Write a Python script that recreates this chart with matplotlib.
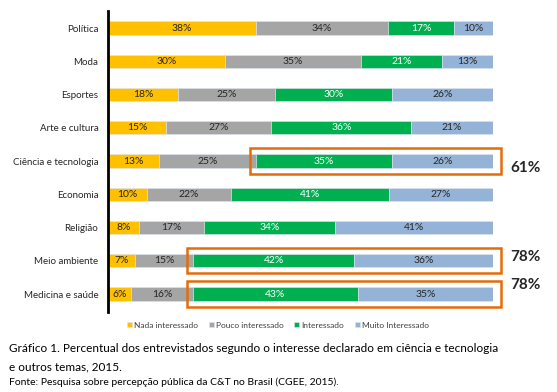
import matplotlib
matplotlib.use("Agg")
import matplotlib.pyplot as plt
from matplotlib.patches import Rectangle
import numpy as np

plt.rcParams['font.family'] = ['Lato', 'DejaVu Sans']

categories = ["Política", "Moda", "Esportes", "Arte e cultura", "Ciência e tecnologia",
              "Economia", "Religião", "Meio ambiente", "Medicina e saúde"]
nada = [38, 30, 18, 15, 13, 10, 8, 7, 6]
pouco = [34, 35, 25, 27, 25, 22, 17, 15, 16]
interessado = [17, 21, 30, 36, 35, 41, 34, 42, 43]
muito = [10, 13, 26, 21, 26, 27, 41, 36, 35]
series_names = ["Nada interessado", "Pouco interessado", "Interessado", "Muito Interessado"]
colors = ["#FFC000", "#A5A5A5", "#00B050", "#95B3D7"]
text_colors = ["#262626", "#262626", "white", "#262626"]
highlight = {"Ciência e tecnologia": "61%", "Meio ambiente": "78%", "Medicina e saúde": "78%"}
label_offsets = {"Ciência e tecnologia": 0.21, "Meio ambiente": -0.12, "Medicina e saúde": -0.27}

data = np.array([nada, pouco, interessado, muito], dtype=float)
totals = data.sum(axis=0)
norm = data / totals * 100

fig = plt.figure(figsize=(5.57, 3.92), dpi=100)
ax = fig.add_axes([0.194, 1 - 312.3 / 392, 0.691, 300.9 / 392])

y = np.arange(len(categories))
left = np.zeros(len(categories))
for k in range(4):
    ax.barh(y, norm[k], left=left, height=0.4, color=colors[k], label=series_names[k],
            edgecolor="#DDE5F0", linewidth=0.4)
    for i in range(len(categories)):
        ax.text(left[i] + norm[k][i] / 2, y[i], f"{int(data[k][i])}%", ha="center", va="center",
                fontsize=7.5, color=text_colors[k])
    left += norm[k]

green_start = norm[0] + norm[1]
for i, c in enumerate(categories):
    if c in highlight:
        x0 = green_start[i] - 1.5
        x1 = 102.0
        r = Rectangle((x0, i - 0.38), x1 - x0, 0.76, fill=False, edgecolor="#E46C0A",
                      linewidth=1.8, clip_on=False, zorder=5)
        ax.add_patch(r)
        ax.text(108.5, i + label_offsets[c], highlight[c],
                ha="center", va="center", fontsize=11, fontweight="bold", color="#262626")

ax.set_xlim(0, 100)
ax.set_ylim(len(categories) - 0.45, -0.5)
ax.set_yticks(y)
ax.set_yticklabels(categories, fontsize=7, color="#262626")
ax.tick_params(axis="y", length=0, pad=7)
ax.set_xticks([])
for s in ["top", "right", "bottom"]:
    ax.spines[s].set_visible(False)
ax.spines["left"].set_linewidth(2)
ax.spines["left"].set_color("black")

handles, labels = ax.get_legend_handles_labels()
fig.legend(handles, labels, loc="center", bbox_to_anchor=(278 / 557, 1 - 325 / 392), ncol=4,
           frameon=False, fontsize=6, handlelength=0.6, handleheight=0.6,
           handletextpad=0.25, columnspacing=1.3, labelcolor="#404040")

fig.text(9 / 557, 1 - 349 / 392, "Gráfico 1. Percentual dos entrevistados segundo o interesse declarado em ciência e tecnologia",
         fontsize=8.45, va="center", ha="left", color="black")
fig.text(9 / 557, 1 - 367 / 392, "e outros temas, 2015.", fontsize=8.45, va="center", ha="left", color="black")
fig.text(9 / 557, 1 - 382 / 392, "Fonte: Pesquisa sobre percepção pública da C&T no Brasil (CGEE, 2015).",
         fontsize=7.5, va="center", ha="left", color="black")

fig.savefig("out.png", dpi=100)
